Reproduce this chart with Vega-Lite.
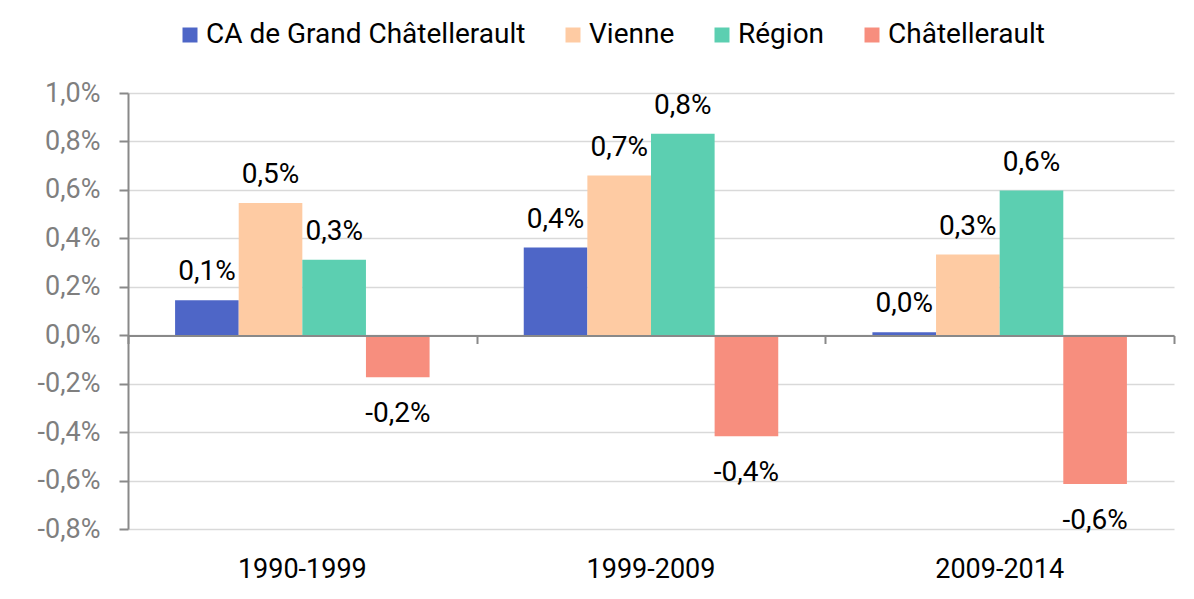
{
  "$schema": "https://vega.github.io/schema/vega-lite/v6.json",
  "width": 1046,
  "height": 436,
  "autosize": {"type": "none"},
  "padding": {"left": 128, "top": 93, "right": 20, "bottom": 70},
  "background": "white",
  "config": {
    "locale": {"number": {"decimal": ",", "thousands": " ", "grouping": [3], "currency": ["", " €"], "minus": "-"}},
    "view": {"stroke": null},
    "font": "Roboto"
  },
  "data": {
    "values": [
      {"period": "1990-1999", "series": "CA de Grand Châtellerault", "value": 0.00144},
      {"period": "1990-1999", "series": "Vienne", "value": 0.00546},
      {"period": "1990-1999", "series": "Région", "value": 0.00312},
      {"period": "1990-1999", "series": "Châtellerault", "value": -0.00174},
      {"period": "1999-2009", "series": "CA de Grand Châtellerault", "value": 0.00362},
      {"period": "1999-2009", "series": "Vienne", "value": 0.00659},
      {"period": "1999-2009", "series": "Région", "value": 0.00832},
      {"period": "1999-2009", "series": "Châtellerault", "value": -0.00417},
      {"period": "2009-2014", "series": "CA de Grand Châtellerault", "value": 0.00012},
      {"period": "2009-2014", "series": "Vienne", "value": 0.00333},
      {"period": "2009-2014", "series": "Région", "value": 0.00597},
      {"period": "2009-2014", "series": "Châtellerault", "value": -0.00614}
    ]
  },
  "encoding": {
    "y": {
      "field": "value",
      "type": "quantitative",
      "scale": {"domain": [-0.008, 0.01], "nice": false, "zero": false},
      "axis": {
        "title": null,
        "values": [-0.008, -0.006, -0.004, -0.002, 0, 0.002, 0.004, 0.006, 0.008, 0.01],
        "format": ".1%",
        "labelFont": "Roboto",
        "labelFontSize": 27,
        "labelColor": "#7f7f7f",
        "labelPadding": 19,
        "domainColor": "#898989",
        "domainWidth": 2,
        "tickColor": "#898989",
        "tickWidth": 2,
        "tickSize": 9,
        "gridColor": "#d9d9d9",
        "gridWidth": 1.5
      }
    }
  },
  "layer": [
    {
      "mark": {"type": "bar", "strokeWidth": 0},
      "encoding": {
        "x": {
          "field": "period", "type": "nominal",
          "sort": ["1990-1999", "1999-2009", "2009-2014"],
          "scale": {"paddingInner": 0, "paddingOuter": 0},
          "axis": {"orient": "bottom", "title": null, "labelAngle": 0, "domain": false, "ticks": false, "grid": false,
                   "labelFont": "Roboto", "labelFontSize": 27, "labelColor": "#000000", "labelPadding": 27}
        },
        "xOffset": {
          "field": "series", "type": "nominal",
          "sort": ["CA de Grand Châtellerault", "Vienne", "Région", "Châtellerault"],
          "scale": {"paddingInner": 0, "paddingOuter": 0.74}
        },
        "color": {
          "field": "series", "type": "nominal",
          "sort": ["CA de Grand Châtellerault", "Vienne", "Région", "Châtellerault"],
          "scale": {
            "domain": ["CA de Grand Châtellerault", "Vienne", "Région", "Châtellerault"],
            "range": ["#4e66c7", "#fecba3", "#5ccfb1", "#f78e7e"]
          },
          "legend": {
            "title": null,
            "orient": "none",
            "legendX": 48,
            "legendY": -72,
            "direction": "horizontal",
            "symbolType": "square",
            "symbolSize": 225,
            "symbolStrokeWidth": 0,
            "labelFont": "Roboto",
            "labelFontSize": 28,
            "labelColor": "#000000",
            "labelLimit": 0,
            "labelOffset": 2,
            "columnPadding": 33
          }
        }
      }
    },
    {
      "transform": [{"filter": "datum.value >= 0"}],
      "mark": {"type": "text", "font": "Roboto", "fontSize": 28, "baseline": "middle", "align": "center", "dy": -28, "color": "#000000"},
      "encoding": {
        "x": {
          "field": "period", "type": "nominal",
          "sort": ["1990-1999", "1999-2009", "2009-2014"],
          "axis": {"orient": "top", "title": null, "labels": false, "grid": false, "offset": -242.5, "zindex": 1,
                   "domain": true, "domainColor": "#898989", "domainWidth": 2,
                   "ticks": true, "tickBand": "extent", "tickColor": "#898989", "tickWidth": 2, "tickSize": -8}
        },
        "xOffset": {
          "field": "series", "type": "nominal",
          "sort": ["CA de Grand Châtellerault", "Vienne", "Région", "Châtellerault"]
        },
        "text": {"field": "value", "type": "quantitative", "format": ".1%"}
      }
    },
    {
      "transform": [{"filter": "datum.value < 0"}],
      "mark": {"type": "text", "font": "Roboto", "fontSize": 28, "baseline": "middle", "align": "center", "dy": 37, "color": "#000000"},
      "encoding": {
        "x": {
          "field": "period", "type": "nominal",
          "sort": ["1990-1999", "1999-2009", "2009-2014"],
          "axis": null
        },
        "xOffset": {
          "field": "series", "type": "nominal",
          "sort": ["CA de Grand Châtellerault", "Vienne", "Région", "Châtellerault"]
        },
        "text": {"field": "value", "type": "quantitative", "format": ".1%"}
      }
    }
  ],
  "resolve": {"axis": {"x": "independent"}}
}
